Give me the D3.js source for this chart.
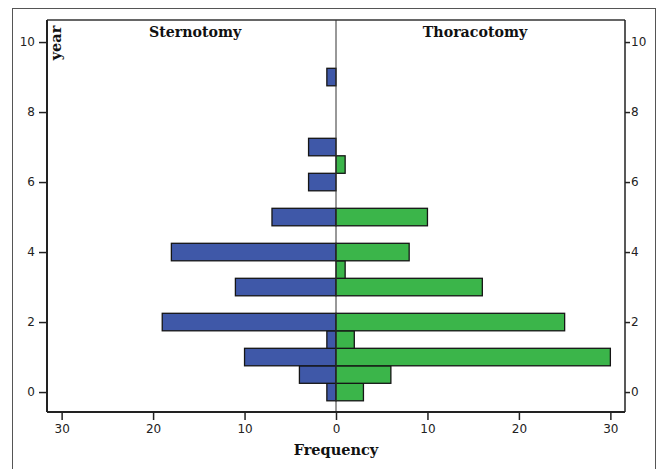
<!DOCTYPE html>
<html>
<head>
<meta charset="utf-8">
<script src="https://cdn.jsdelivr.net/npm/d3@7"></script>
<style>
  html, body { margin: 0; padding: 0; background: #fff; }
  svg { display: block; }
</style>
</head>
<body>
<svg id="chart" width="661" height="469"></svg>
<script>
// Data
const years = [0, 0.5, 1, 1.5, 2, 3, 3.5, 4, 5, 6, 6.5, 7, 9];
const sternotomy  = [1, 4, 10, 1, 19, 11, 0, 18, 7, 3, 0, 3, 1];
const thoracotomy = [3, 6, 30, 2, 25, 16, 1, 8, 10, 0, 1, 0, 0];
const yTicks = [0, 2, 4, 6, 8, 10];
const xTicks = [-30, -20, -10, 0, 10, 20, 30];
const groupNames = ["Sternotomy", "Thoracotomy"];
const colors = ["#3f58a8", "#3bb54a"];

const svg = d3.select("#chart");
const L = 47, R = 625, T = 20, B = 412;

const x = d3.scaleLinear().domain([-31.6, 31.6]).range([L, R]);
const y = d3.scaleLinear().domain([-0.57, 10.63]).range([B, T]);

// outer frame
svg.append("rect").attr("x", 12.5).attr("y", 8.5).attr("width", 643).attr("height", 480)
  .attr("fill", "none").attr("stroke", "#555").attr("stroke-width", 1);

// plot frame top/right
svg.append("line").attr("x1", L).attr("x2", R).attr("y1", T).attr("y2", T)
  .attr("stroke", "#333").attr("stroke-width", 1.5);
svg.append("line").attr("x1", R).attr("x2", R).attr("y1", T).attr("y2", B)
  .attr("stroke", "#222").attr("stroke-width", 1.5);

const half = 0.25;
// bars
const bars = svg.append("g");
years.forEach((yr, i) => {
  if (sternotomy[i] > 0) {
    bars.append("rect")
      .attr("x", x(-sternotomy[i])).attr("y", y(yr + half))
      .attr("width", x(0) - x(-sternotomy[i])).attr("height", y(yr - half) - y(yr + half))
      .attr("fill", colors[0]).attr("stroke", "#151515").attr("stroke-width", 1.3);
  }
  if (thoracotomy[i] > 0) {
    bars.append("rect")
      .attr("x", x(0)).attr("y", y(yr + half))
      .attr("width", x(thoracotomy[i]) - x(0)).attr("height", y(yr - half) - y(yr + half))
      .attr("fill", colors[1]).attr("stroke", "#151515").attr("stroke-width", 1.3);
  }
});

// center line
svg.append("line").attr("x1", x(0)).attr("x2", x(0)).attr("y1", T).attr("y2", B)
  .attr("stroke", "#333").attr("stroke-width", 1);

const tickFont = "DejaVu Sans, sans-serif";

// left axis
const gl = svg.append("g").attr("transform", `translate(${L},0)`)
  .call(d3.axisLeft(y).tickValues(yTicks).tickSize(8).tickPadding(4).tickFormat(d3.format("d")));
gl.select(".domain").attr("d", `M0,${T}V${B}`).attr("stroke", "#222").attr("stroke-width", 2);
gl.selectAll(".tick line").attr("stroke", "#222").attr("stroke-width", 1.5);
gl.selectAll(".tick text").attr("font-family", tickFont).attr("font-size", 12).attr("fill", "#222");

// right axis
const gr = svg.append("g").attr("transform", `translate(${R},0)`)
  .call(d3.axisRight(y).tickValues(yTicks).tickSize(5).tickPadding(1).tickFormat(d3.format("d")));
gr.select(".domain").remove();
gr.selectAll(".tick line").attr("stroke", "#222").attr("stroke-width", 1.5);
gr.selectAll(".tick text").attr("font-family", tickFont).attr("font-size", 12).attr("fill", "#222");

// bottom axis
const gb = svg.append("g").attr("transform", `translate(0,${B})`)
  .call(d3.axisBottom(x).tickValues(xTicks).tickSize(8).tickPadding(4).tickFormat(d => Math.abs(d)));
gb.select(".domain").attr("d", `M${L},0H${R}`).attr("stroke", "#222").attr("stroke-width", 2);
gb.selectAll(".tick line").attr("stroke", "#222").attr("stroke-width", 1.5);
gb.selectAll(".tick text").attr("font-family", tickFont).attr("font-size", 12).attr("fill", "#222");

const titleFont = "DejaVu Serif, serif";
// group titles
svg.append("text").attr("x", x(-15.4)).attr("y", 37).attr("text-anchor", "middle")
  .attr("font-family", titleFont).attr("font-weight", "bold").attr("font-size", 14.2)
  .attr("fill", "#111").text(groupNames[0]);
svg.append("text").attr("x", x(15.2)).attr("y", 37).attr("text-anchor", "middle")
  .attr("font-family", titleFont).attr("font-weight", "bold").attr("font-size", 14.2)
  .attr("fill", "#111").text(groupNames[1]);

// y label
svg.append("text").attr("transform", `translate(61,43) rotate(-90)`)
  .attr("text-anchor", "middle")
  .attr("font-family", titleFont).attr("font-weight", "bold").attr("font-size", 14.5)
  .attr("fill", "#111").text("year");

// x label
svg.append("text").attr("x", x(0)).attr("y", 455).attr("text-anchor", "middle")
  .attr("font-family", titleFont).attr("font-weight", "bold").attr("font-size", 14.5)
  .attr("fill", "#111").text("Frequency");
</script>
</body>
</html>
